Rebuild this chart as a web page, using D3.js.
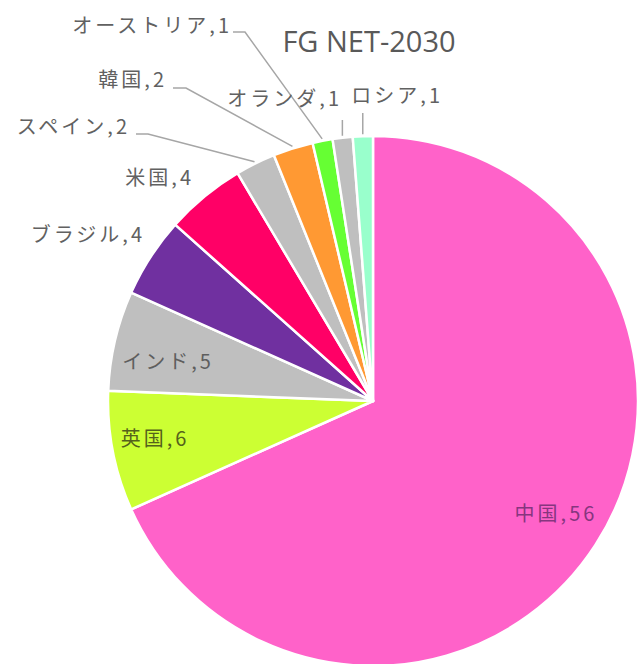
<!DOCTYPE html>
<html>
<head>
<meta charset="utf-8">
<script src="https://cdn.jsdelivr.net/npm/d3@7"></script>
<style>
  body { margin: 0; background: #fff; }
  text { font-family: "Noto Sans CJK JP", "Noto Sans", sans-serif; }
</style>
</head>
<body>
<div id="chart"></div>
<script>
// data, clockwise from 12 o'clock
var countries = ["中国", "英国", "インド", "ブラジル", "米国", "スペイン", "韓国", "オーストリア", "オランダ", "ロシア"];
var counts = [56, 6, 5, 4, 4, 2, 2, 1, 1, 1];
var colors = ["#ff62c9", "#ccff33", "#bfbfbf", "#7030a0", "#ff0066", "#bfbfbf", "#ff9933", "#66ff33", "#bfbfbf", "#99ffcc"];
var title = "FG NET-2030";

var width = 640;
var height = 664;
var cx = 373, cy = 401, radius = 265;

// where each label sits (baseline), anchor, leader elbow
var labelLayout = {
  "中国":       {x: 556, y: 521, anchor: "middle", fill: "#86367f"},
  "英国":       {x: 155, y: 446, anchor: "middle", fill: "#55621c"},
  "インド":     {x: 168, y: 369, anchor: "middle", fill: "#5e5e5e"},
  "ブラジル":   {x: 145, y: 242, anchor: "end"},
  "米国":       {x: 194, y: 185, anchor: "end"},
  "スペイン":   {x: 130, y: 134, anchor: "end", leader: "elbow", ly: 134, lx0: 136, lx1: 148},
  "韓国":       {x: 167, y: 87, anchor: "end", leader: "elbow", ly: 88, lx0: 173, lx1: 186},
  "オーストリア": {x: 232, y: 33, anchor: "end", leader: "elbow", ly: 32, lx0: 233, lx1: 245},
  "オランダ":   {x: 342, y: 106, anchor: "end", leader: "vertical", ly: 120},
  "ロシア":     {x: 443, y: 103, anchor: "end", leader: "vertical", ly: 113}
};

var data = countries.map(function(c, i) {
  return {name: c, value: counts[i], color: colors[i]};
});

var svg = d3.select("#chart").append("svg")
  .attr("width", width)
  .attr("height", height);

var pie = d3.pie()
  .sort(null)
  .value(function(d) { return d.value; });

var arc = d3.arc()
  .innerRadius(0)
  .outerRadius(radius);

var edgeArc = d3.arc()
  .innerRadius(radius + 2)
  .outerRadius(radius + 2);

var arcs = pie(data);

var g = svg.append("g")
  .attr("transform", "translate(" + cx + "," + cy + ")");

g.selectAll("path.slice")
  .data(arcs)
  .enter()
  .append("path")
  .attr("class", "slice")
  .attr("d", arc)
  .attr("fill", function(d) { return d.data.color; })
  .attr("stroke", "#fff")
  .attr("stroke-width", 2.5)
  .attr("stroke-linejoin", "round");

// leader lines
arcs.forEach(function(d) {
  var lay = labelLayout[d.data.name];
  if (!lay.leader) return;
  var p = edgeArc.centroid(d);
  var px = p[0] + cx, py = p[1] + cy;
  var pts;
  if (lay.leader == "elbow") {
    pts = [[lay.lx0, lay.ly], [lay.lx1, lay.ly], [px, py]];
  } else {
    pts = [[px, lay.ly], [px, py]];
  }
  svg.append("path")
    .attr("d", d3.line()(pts))
    .attr("fill", "none")
    .attr("stroke", "#a6a6a6")
    .attr("stroke-width", 1.5);
});

// labels
arcs.forEach(function(d) {
  var lay = labelLayout[d.data.name];
  svg.append("text")
    .attr("x", lay.x)
    .attr("y", lay.y)
    .attr("text-anchor", lay.anchor)
    .attr("font-size", 20)
    .attr("letter-spacing", 3)
    .attr("fill", lay.fill || "#616161")
    .text(d.data.name + "," + d.data.value);
});

svg.append("text")
  .text(title)
  .attr("x", 369)
  .attr("y", 52)
  .attr("text-anchor", "middle")
  .attr("font-size", 29)
  .style("font-family", "'Open Sans', sans-serif")
  .attr("fill", "#595959");
</script>
</body>
</html>
